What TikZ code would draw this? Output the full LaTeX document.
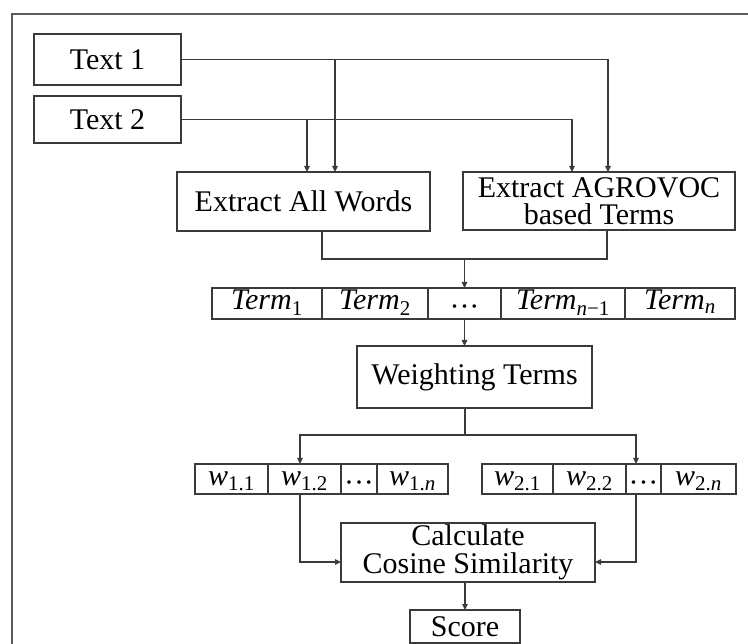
\documentclass[tikz,border=0pt]{standalone}
\usepackage{fontspec}
\setmainfont{Liberation Serif}
\usetikzlibrary{positioning,arrows.meta}
\definecolor{linea}{HTML}{3A3A3A}
\definecolor{marco}{HTML}{5A5A5A}
\newcommand{\puntos}{\raisebox{-7pt}{···}}

\begin{document}
\begin{tikzpicture}[x=1pt,y=-1pt,
    font=\fontsize{30}{27.5}\selectfont,
    b/.style={draw=linea,line width=1.4pt,inner sep=0pt,outer sep=0pt,align=center},
    c/.style={b,minimum height=31pt,text height=20pt,text depth=7pt,anchor=west},
    f/.style={-{Triangle[length=6pt,width=5.5pt]},linea,line width=1.2pt},
    l/.style={linea,line width=1.2pt}]
  \useasboundingbox (0,0) rectangle (748,644);
  \clip (0,0) rectangle (748,644);
  \draw[marco,line width=2.5pt] (12,680) |- (780,14);
  % inputs and extraction
  \node[b,minimum width=147pt,minimum height=51pt] (t1) at (107.5,59.5) {Text 1};
  \node[b,minimum width=147pt,minimum height=47pt] (t2) at (107.5,119.5) {Text 2};
  \node[b,minimum width=253pt,minimum height=59pt] (eaw) at (303.5,201.5) {Extract All Words};
  \node[b,minimum width=272pt,minimum height=58pt] (ag) at (599,201) {Extract AGROVOC\\based Terms};
  % term vector
  \node[c,minimum width=110pt] (tr1) at (212,303.5) {\textit{Term}\textsubscript{1}};
  \node[c,minimum width=106pt,right=0pt of tr1] (tr2) {\textit{Term}\textsubscript{2}};
  \node[c,minimum width=73pt,right=0pt of tr2] (trd) {\puntos};
  \node[c,minimum width=124pt,right=0pt of trd] (trn1) {\textit{Term}\textsubscript{\textit{n}−1}};
  \node[c,minimum width=110pt,right=0pt of trn1] (trn) {\textit{Term}\textsubscript{\textit{n}}};
  \node[b,minimum width=235pt,minimum height=62pt] (wt) at (474.5,377) {Weighting Terms};
  % weight vectors
  \node[c,minimum width=73pt,minimum height=30pt] (wa1) at (195,479) {\textit{w}\textsubscript{1.1}};
  \node[c,minimum width=73pt,minimum height=30pt,right=0pt of wa1] (wa2) {\textit{w}\textsubscript{1.2}};
  \node[c,minimum width=36pt,minimum height=30pt,right=0pt of wa2] (wad) {\puntos};
  \node[c,minimum width=71pt,minimum height=30pt,right=0pt of wad] (wan) {\textit{w}\textsubscript{1.\textit{n}}};
  \node[c,minimum width=71pt,minimum height=30pt] (wb1) at (482,479) {\textit{w}\textsubscript{2.1}};
  \node[c,minimum width=73pt,minimum height=30pt,right=0pt of wb1] (wb2) {\textit{w}\textsubscript{2.2}};
  \node[c,minimum width=35pt,minimum height=30pt,right=0pt of wb2] (wbd) {\puntos};
  \node[c,minimum width=75pt,minimum height=30pt,right=0pt of wbd] (wbn) {\textit{w}\textsubscript{2.\textit{n}}};
  \node[b,minimum width=254pt,minimum height=59pt] (cs) at (468,552.5) {Calculate\\Cosine Similarity};
  \node[b,minimum width=110pt,minimum height=33pt] (sc) at (465,626.5) {Score};
  % connectors
  \coordinate (a1) at ([xshift=31.5pt]eaw.north);
  \coordinate (a2) at ([xshift=3.5pt]eaw.north);
  \draw[f] (t1.east) -| ([xshift=9pt]ag.north);
  \draw[f] (t2.east) -| ([xshift=-27pt]ag.north);
  \draw[f] (a1 |- t1.east) -- (a1);
  \draw[f] (a2 |- t2.east) -- (a2);
  \coordinate (m) at (464.5,259);
  \draw[l] ([xshift=18.5pt]eaw.south) |- (m) -| ([xshift=8pt]ag.south);
  \draw[f] (m) -- (m |- trd.north);
  \draw[f] (m |- trd.south) -- (m |- wt.north);
  \coordinate (s) at (465,435);
  \draw[l] (s |- wt.south) -- (s);
  \draw[f] (s) -| ([xshift=-4.5pt]wa2.north);
  \draw[f] (s) -| ([xshift=-7.5pt]wbd.north);
  \draw[f] ([xshift=-4.5pt]wa2.south) |- ([yshift=-9.5pt]cs.west);
  \draw[f] ([xshift=-7.5pt]wbd.south) |- ([yshift=-9.5pt]cs.east);
  \draw[f] (sc.north |- cs.south) -- (sc.north);
\end{tikzpicture}
\end{document}
